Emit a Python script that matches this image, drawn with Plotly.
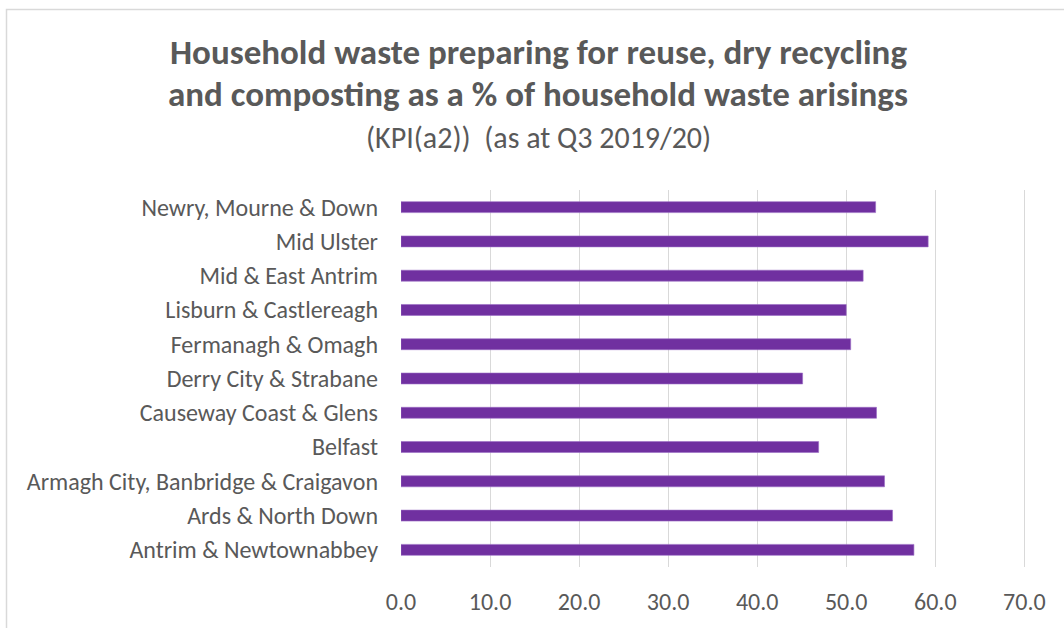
import plotly.graph_objects as go

councils = [
    "Antrim & Newtownabbey",
    "Ards & North Down",
    "Armagh City, Banbridge & Craigavon",
    "Belfast",
    "Causeway Coast & Glens",
    "Derry City & Strabane",
    "Fermanagh & Omagh",
    "Lisburn & Castlereagh",
    "Mid & East Antrim",
    "Mid Ulster",
    "Newry, Mourne & Down",
]
rates = [57.6, 55.2, 54.3, 46.9, 53.4, 45.1, 50.5, 50.0, 51.9, 59.2, 53.3]

title_line1 = "Household waste preparing for reuse, dry recycling"
title_line2 = "and composting as a % of household waste arisings"
subtitle = "(KPI(a2))&nbsp;&nbsp;(as at Q3 2019/20)"
x_ticks = [0, 10, 20, 30, 40, 50, 60, 70]

FONT = "Carlito, Calibri, Lato, sans-serif"
GREY = "#595959"

W, H = 1064, 628
ML, MR, MT, MB = 401, 37, 190, 56
PW, PH = W - ML - MR, H - MT - MB

def px(x):
    return (x - ML) / PW

def py(y):
    return (H - MB - y) / PH

fig = go.Figure(go.Bar(
    x=rates, y=councils, orientation="h",
    marker=dict(color="#7030A0", line=dict(color="#9a6cc4", width=0.6)),
    width=0.32,
))

fig.update_layout(
    width=W, height=H,
    margin=dict(l=ML, r=MR, t=MT, b=MB),
    paper_bgcolor="white", plot_bgcolor="white",
    showlegend=False,
    font=dict(family=FONT, color=GREY),
    xaxis=dict(
        range=[0, 70.3], tickvals=x_ticks, tickformat=".1f",
        showgrid=True, gridcolor="#d9d9d9", gridwidth=1.3,
        zeroline=False, showline=False, ticks="",
        tickfont=dict(size=24, color=GREY, family=FONT),
        ticklabelstandoff=18,
    ),
    yaxis=dict(
        categoryorder="array", categoryarray=councils,
        showgrid=False, zeroline=False, showline=False, ticks="",
        tickfont=dict(size=24, color=GREY, family=FONT),
        ticklabelstandoff=22,
        range=[-0.5, len(councils) - 0.5],
    ),
    annotations=[
        dict(text="<b>" + title_line1 + "</b>", x=px(538), y=py(50), xref="paper", yref="paper",
             showarrow=False, xanchor="center", yanchor="middle",
             font=dict(size=35, color=GREY, family=FONT)),
        dict(text="<b>" + title_line2 + "</b>", x=px(538), y=py(93), xref="paper", yref="paper",
             showarrow=False, xanchor="center", yanchor="middle",
             font=dict(size=35, color=GREY, family=FONT)),
        dict(text=subtitle, x=px(538), y=py(137), xref="paper", yref="paper",
             showarrow=False, xanchor="center", yanchor="middle",
             font=dict(size=30, color=GREY, family=FONT)),
    ],
    shapes=[
        dict(type="rect", xref="paper", yref="paper",
             x0=px(6.5), x1=px(1080), y0=py(7), y1=py(640),
             line=dict(color="#d9d9d9", width=1.5), layer="below"),
    ],
)

fig.write_html("out.html", config={"displayModeBar": False},
               post_script="document.body.style.margin='0';")
